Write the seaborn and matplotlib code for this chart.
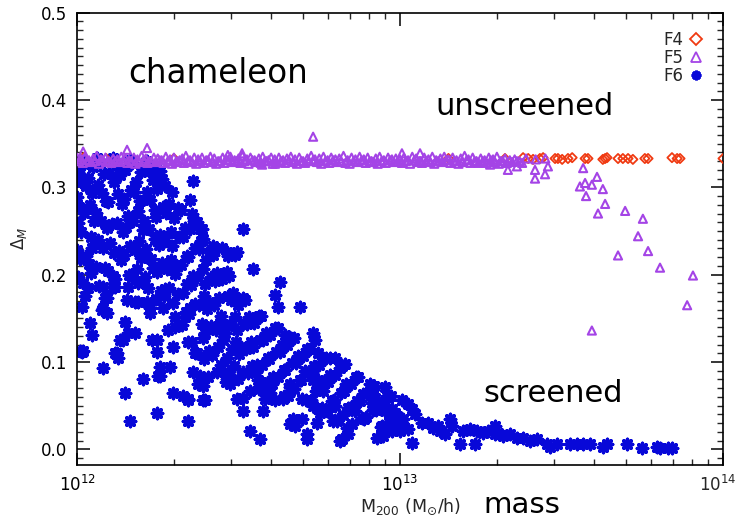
import numpy as np
import pandas as pd
import matplotlib
matplotlib.use("Agg")
import matplotlib.pyplot as plt
import seaborn as sns
from matplotlib.ticker import MultipleLocator, LogLocator, FormatStrFormatter, NullFormatter, FuncFormatter
from matplotlib.lines import Line2D

# ---------------- data (log10 of M200 in Msun/h, and Delta_M) ----------------
# F6 (blue asterisks)
f6_logm = [
    12.010, 12.002, 12.012, 12.001, 12.006, 12.003, 12.011, 12.000, 12.008, 12.002,
    12.021, 12.034, 12.027, 12.040, 12.023, 12.042, 12.029, 12.036, 12.019,
    12.063, 12.049, 12.066, 12.045, 12.058, 12.053, 12.064, 12.047, 12.060, 12.044,
    12.071, 12.084, 12.077, 12.090, 12.073, 12.092, 12.079, 12.086, 12.069,
    12.113, 12.099, 12.116, 12.095, 12.108, 12.103, 12.114, 12.097, 12.110,
    12.121, 12.134, 12.127, 12.140, 12.123, 12.142, 12.129, 12.136, 12.119,
    12.163, 12.149, 12.166, 12.145, 12.158, 12.153, 12.164, 12.147, 12.160,
    12.171, 12.184, 12.177, 12.190, 12.173, 12.192, 12.179, 12.186, 12.169,
    12.213, 12.199, 12.216, 12.195, 12.208, 12.203, 12.214, 12.197, 12.210,
    12.221, 12.234, 12.227, 12.240, 12.223, 12.242, 12.229, 12.236, 12.219,
    12.263, 12.249, 12.266, 12.245, 12.258, 12.253, 12.264, 12.247, 12.260, 12.244,
    12.271, 12.284, 12.277, 12.290, 12.273, 12.292, 12.279, 12.286, 12.269,
    12.313, 12.299, 12.316, 12.295, 12.308, 12.303, 12.314, 12.297,
    12.321, 12.334, 12.327, 12.340, 12.323, 12.342, 12.329, 12.336,
    12.363, 12.349, 12.366, 12.345, 12.358, 12.353, 12.364, 12.347,
    12.371, 12.384, 12.377, 12.390, 12.373, 12.392, 12.379, 12.386,
    12.413, 12.399, 12.416, 12.395, 12.408, 12.403, 12.414, 12.397, 12.410, 12.394, 12.406,
    12.421, 12.434, 12.427, 12.440, 12.423, 12.442, 12.429, 12.436, 12.419, 12.432,
    12.463, 12.449, 12.466, 12.445, 12.458, 12.453, 12.464, 12.447, 12.460,
    12.471, 12.484, 12.477, 12.490, 12.473, 12.492, 12.479, 12.486, 12.469,
    12.513, 12.499, 12.516, 12.495, 12.508, 12.503, 12.514, 12.497,
    12.521, 12.534, 12.527, 12.540, 12.523, 12.542, 12.529, 12.536,
    12.563, 12.549, 12.566, 12.545, 12.558, 12.553, 12.564,
    12.571, 12.584, 12.577, 12.590, 12.573, 12.592, 12.579,
    12.613, 12.599, 12.616, 12.595, 12.608, 12.603,
    12.621, 12.634, 12.627, 12.640, 12.623, 12.642,
    12.663, 12.649, 12.666, 12.645, 12.658, 12.653,
    12.671, 12.684, 12.677, 12.690, 12.673,
    12.713, 12.699, 12.716, 12.695, 12.708,
    12.721, 12.734, 12.727, 12.740, 12.723,
    12.763, 12.749, 12.766, 12.745, 12.758,
    12.771, 12.784, 12.777, 12.790, 12.773,
    12.813, 12.799, 12.816, 12.795, 12.808,
    12.821, 12.834, 12.827, 12.840, 12.823,
    12.863, 12.849, 12.866, 12.845,
    12.871, 12.884, 12.877, 12.890,
    12.913, 12.899, 12.916, 12.895,
    12.921, 12.934, 12.927, 12.940,
    12.963, 12.949, 12.966,
    12.971, 12.984, 12.977,
    # scattered haloes
    12.015, 12.025, 12.034, 12.019, 12.009, 12.040, 12.046, 12.080, 12.093, 12.093,
    12.077, 12.118, 12.124, 12.127, 12.149, 12.149, 12.142, 12.158, 12.164, 12.180,
    12.180, 12.204, 12.226, 12.248, 12.248, 12.248, 12.257, 12.257, 12.266, 12.288,
    12.297, 12.297, 12.325, 12.328, 12.344, 12.344, 12.356, 12.372, 12.381, 12.390,
    12.396, 12.464, 12.474, 12.495, 12.514, 12.514, 12.536, 12.545, 12.567, 12.576,
    12.598, 12.628, 12.622, 12.659, 12.659, 12.669, 12.690, 12.712, 12.731, 12.743,
    12.743, 12.783, 12.793, 12.814, 12.836,
    12.080, 12.111, 12.158, 12.189, 12.087, 12.080, 12.155, 12.189, 12.217, 12.226,
    12.272, 12.303, 12.334, 12.350, 12.232, 12.282, 12.303, 12.344, 12.390, 12.133,
    12.015, 12.118, 12.251, 12.365, 12.359, 12.381, 12.344, 12.390,
    12.697, 12.675, 12.712, 12.731, 12.752, 12.375, 12.560, 12.582, 12.613, 12.638,
    12.697, 12.706, 12.731, 12.762,
    12.830, 12.799, 12.907, 12.916, 12.954, 12.960, 12.913, 12.932, 12.954, 12.975,
    12.985, 13.006, 13.025, 13.037, 13.046, 13.009, 12.994, 12.944, 12.929, 12.947,
    12.975, 13.025, 13.037, 13.068, 13.087, 13.102, 13.118, 12.820, 12.839, 12.805,
    12.746, 12.746, 12.861, 12.882, 12.851, 12.799, 12.774,
    13.000, 13.124, 13.155, 13.161, 13.139, 13.186, 13.195, 13.217, 13.238, 13.232,
    13.257, 13.272, 13.294, 13.294, 13.303, 13.319, 13.341, 13.362, 13.381, 13.402,
    13.424, 13.455, 13.464, 13.486, 13.526, 13.548, 13.567, 13.588, 13.628, 13.641,
    13.703, 13.749, 13.796, 13.805, 13.830, 13.842, 12.923, 12.969, 12.991, 12.978,
    12.248, 12.257, 12.359, 12.294, 12.350, 12.356, 12.381, 12.387, 12.390, 12.421,
    12.514, 12.449, 12.464, 12.489, 12.495, 12.467, 12.613, 12.644, 12.737, 12.217,
]
f6_delta = [
    0.331, 0.317, 0.306, 0.289, 0.278, 0.259, 0.249, 0.228, 0.218, 0.197,
    0.327, 0.311, 0.301, 0.280, 0.271, 0.243, 0.221, 0.212, 0.190,
    0.334, 0.323, 0.303, 0.293, 0.271, 0.261, 0.240, 0.231, 0.209, 0.202,
    0.328, 0.315, 0.293, 0.284, 0.262, 0.253, 0.231, 0.208, 0.187,
    0.334, 0.316, 0.306, 0.283, 0.258, 0.236, 0.225, 0.204, 0.198,
    0.325, 0.314, 0.292, 0.281, 0.259, 0.249, 0.227, 0.217, 0.195,
    0.331, 0.320, 0.297, 0.287, 0.267, 0.255, 0.233, 0.222, 0.200,
    0.328, 0.306, 0.295, 0.273, 0.262, 0.239, 0.228, 0.207, 0.197,
    0.329, 0.317, 0.295, 0.284, 0.262, 0.251, 0.229, 0.219, 0.197,
    0.320, 0.308, 0.286, 0.274, 0.252, 0.241, 0.218, 0.208, 0.185,
    0.310, 0.298, 0.277, 0.266, 0.245, 0.234, 0.213, 0.203, 0.181, 0.172,
    0.302, 0.281, 0.271, 0.249, 0.239, 0.217, 0.207, 0.185, 0.175,
    0.276, 0.265, 0.243, 0.233, 0.211, 0.201, 0.178, 0.168,
    0.274, 0.253, 0.243, 0.221, 0.211, 0.189, 0.179, 0.157,
    0.262, 0.252, 0.230, 0.220, 0.198, 0.188, 0.166, 0.155,
    0.260, 0.239, 0.229, 0.207, 0.197, 0.175, 0.165, 0.143,
    0.226, 0.217, 0.197, 0.189, 0.169, 0.161, 0.141, 0.133, 0.113, 0.103, 0.083,
    0.222, 0.202, 0.193, 0.173, 0.165, 0.145, 0.137, 0.117, 0.108, 0.088,
    0.203, 0.195, 0.175, 0.153, 0.133, 0.125, 0.105, 0.097, 0.077,
    0.198, 0.179, 0.171, 0.151, 0.143, 0.123, 0.115, 0.095, 0.087,
    0.173, 0.165, 0.145, 0.137, 0.117, 0.109, 0.089, 0.081,
    0.171, 0.151, 0.143, 0.123, 0.115, 0.095, 0.087, 0.067,
    0.153, 0.145, 0.125, 0.117, 0.097, 0.089, 0.069,
    0.153, 0.133, 0.125, 0.105, 0.097, 0.077, 0.069,
    0.139, 0.131, 0.111, 0.103, 0.083, 0.075,
    0.139, 0.119, 0.111, 0.091, 0.083, 0.061,
    0.127, 0.119, 0.099, 0.091, 0.071, 0.061,
    0.127, 0.107, 0.099, 0.079, 0.069,
    0.115, 0.107, 0.087, 0.079, 0.057,
    0.115, 0.095, 0.087, 0.067, 0.057,
    0.105, 0.097, 0.077, 0.069, 0.047,
    0.105, 0.085, 0.077, 0.055, 0.045,
    0.093, 0.085, 0.065, 0.057, 0.035,
    0.095, 0.075, 0.067, 0.047, 0.039,
    0.083, 0.075, 0.055, 0.047,
    0.083, 0.063, 0.055, 0.035,
    0.073, 0.065, 0.045, 0.037,
    0.073, 0.053, 0.045, 0.025,
    0.059, 0.051, 0.031,
    0.061, 0.041, 0.033,
    # scattered haloes
    0.163, 0.175, 0.185, 0.113, 0.113, 0.145, 0.131, 0.093, 0.156, 0.173,
    0.160, 0.186, 0.110, 0.104, 0.146, 0.065, 0.125, 0.133, 0.032, 0.133,
    0.169, 0.081, 0.156, 0.125, 0.111, 0.042, 0.084, 0.094, 0.162, 0.094,
    0.065, 0.117, 0.142, 0.061, 0.058, 0.032, 0.123, 0.110, 0.084, 0.073,
    0.056, 0.081, 0.075, 0.058, 0.059, 0.044, 0.021, 0.206, 0.012, 0.044,
    0.064, 0.192, 0.163, 0.075, 0.029, 0.035, 0.163, 0.017, 0.133, 0.047,
    0.030, 0.105, 0.032, 0.009, 0.024,
    0.186, 0.186, 0.186, 0.191, 0.173, 0.162, 0.171, 0.169, 0.169, 0.162,
    0.183, 0.152, 0.152, 0.162, 0.125, 0.137, 0.140, 0.123, 0.127, 0.125,
    0.111, 0.110, 0.084, 0.110, 0.088, 0.079, 0.056, 0.056,
    0.035, 0.027, 0.012, 0.050, 0.042, 0.075, 0.079, 0.058, 0.056, 0.058,
    0.058, 0.090, 0.079, 0.067,
    0.098, 0.105, 0.075, 0.069, 0.071, 0.061, 0.053, 0.047, 0.044, 0.046,
    0.040, 0.056, 0.052, 0.046, 0.040, 0.035, 0.029, 0.027, 0.013, 0.015,
    0.021, 0.023, 0.007, 0.030, 0.030, 0.024, 0.027, 0.012, 0.017, 0.032,
    0.110, 0.079, 0.044, 0.036, 0.029, 0.050, 0.044,
    0.021, 0.021, 0.035, 0.027, 0.017, 0.006, 0.021, 0.023, 0.021, 0.006,
    0.019, 0.021, 0.027, 0.017, 0.019, 0.015, 0.017, 0.013, 0.013, 0.009,
    0.012, 0.006, 0.003, 0.006, 0.006, 0.006, 0.006, 0.006, 0.003, 0.006,
    0.006, 0.001, 0.003, 0.001, 0.001, 0.001, 0.059, 0.042, 0.038, 0.024,
    0.319, 0.319, 0.307, 0.295, 0.285, 0.270, 0.252, 0.252, 0.241, 0.233,
    0.252, 0.231, 0.226, 0.223, 0.226, 0.221, 0.177, 0.131, 0.125, 0.330,
]

# F5 (purple open triangles)
f5_logm = [
    12.000, 12.012, 12.025, 12.037, 12.050, 12.061, 12.074, 12.088, 12.099, 12.112,
    12.125, 12.137, 12.150, 12.162, 12.176, 12.187, 12.200, 12.213, 12.224, 12.238,
    12.250, 12.262, 12.275, 12.288, 12.300, 12.312, 12.326, 12.337, 12.350, 12.363,
    12.375, 12.387, 12.400, 12.413, 12.425, 12.437, 12.451, 12.462, 12.475, 12.488,
    12.500, 12.512, 12.526, 12.537, 12.550, 12.563, 12.575, 12.587, 12.601, 12.612,
    12.625, 12.638, 12.650, 12.662, 12.675, 12.688, 12.700, 12.713, 12.725, 12.737,
    12.750, 12.763, 12.776, 12.787, 12.800, 12.812, 12.825, 12.838, 12.850, 12.862,
    12.875, 12.888, 12.900, 12.912, 12.925, 12.937, 12.950, 12.963, 12.975, 12.987,
    13.000, 13.012, 13.025, 13.038, 13.050, 13.062, 13.075, 13.088, 13.100, 13.112,
    13.125, 13.137, 13.150, 13.163, 13.175, 13.188, 13.200, 13.212, 13.225, 13.237,
    13.250, 13.262, 13.275, 13.288, 13.300, 13.312, 13.325, 13.340, 13.355, 13.370,
    12.006, 12.018, 12.031, 12.043, 12.056, 12.068, 12.080, 12.093, 12.106, 12.118,
    12.131, 12.143, 12.156, 12.168, 12.181, 12.193, 12.206, 12.218, 12.231, 12.244,
    12.256, 12.268, 12.281, 12.294, 12.306, 12.318, 12.331, 12.343, 12.356, 12.369,
    12.381, 12.393, 12.406, 12.419, 12.431, 12.443, 12.456, 12.468, 12.481, 12.494,
    12.506, 12.518, 12.531, 12.543, 12.556, 12.569, 12.581, 12.593, 12.606, 12.618,
    12.631, 12.644, 12.656, 12.668, 12.681, 12.694, 12.706, 12.718, 12.731, 12.743,
    12.756, 12.769, 12.781, 12.793, 12.806, 12.818, 12.831, 12.844, 12.856, 12.868,
    12.881, 12.894, 12.906, 12.918, 12.931, 12.943, 12.956, 12.969, 12.981, 12.993,
    13.006, 13.018, 13.031, 13.044, 13.056, 13.068, 13.081, 13.094, 13.106, 13.118,
    13.131, 13.143, 13.156, 13.168, 13.181, 13.194, 13.206, 13.218, 13.231, 13.243,
    13.256, 13.268, 13.281, 13.294, 13.306, 13.318, 13.331, 13.347, 13.362, 13.378,
    12.019, 12.155, 12.217, 12.511, 12.467, 12.573, 12.613, 12.731, 13.006, 13.062,
    13.279, 13.334, 13.362, 13.418, 13.418, 13.449, 13.458, 13.567, 13.557, 13.573,
    13.594, 13.576, 13.610, 13.628, 13.635, 13.613, 13.697, 13.752, 13.737, 13.768,
    13.675, 13.805, 13.907, 13.889, 13.594, 13.390, 13.420, 13.450,
]
f5_delta = [
    0.334, 0.332, 0.335, 0.331, 0.333, 0.336, 0.332, 0.334, 0.330, 0.333,
    0.332, 0.335, 0.333, 0.331, 0.334, 0.332, 0.336, 0.333, 0.330, 0.334,
    0.333, 0.331, 0.335, 0.332, 0.334, 0.330, 0.333, 0.336, 0.331, 0.334,
    0.332, 0.334, 0.331, 0.335, 0.333, 0.330, 0.334, 0.332, 0.335, 0.331,
    0.333, 0.336, 0.332, 0.334, 0.331, 0.333, 0.335, 0.330, 0.334, 0.332,
    0.334, 0.331, 0.333, 0.335, 0.332, 0.334, 0.330, 0.333, 0.336, 0.332,
    0.333, 0.335, 0.331, 0.334, 0.332, 0.333, 0.336, 0.331, 0.334, 0.332,
    0.335, 0.332, 0.334, 0.330, 0.333, 0.335, 0.331, 0.334, 0.332, 0.333,
    0.332, 0.334, 0.331, 0.335, 0.333, 0.330, 0.334, 0.332, 0.335, 0.331,
    0.333, 0.335, 0.332, 0.334, 0.331, 0.333, 0.336, 0.332, 0.334, 0.330,
    0.333, 0.331, 0.334, 0.332, 0.335, 0.330, 0.333, 0.331, 0.332, 0.330,
    0.330, 0.328, 0.331, 0.329, 0.330, 0.327, 0.331, 0.329, 0.328, 0.330,
    0.329, 0.331, 0.328, 0.330, 0.327, 0.329, 0.331, 0.328, 0.330, 0.329,
    0.331, 0.328, 0.330, 0.327, 0.329, 0.331, 0.328, 0.330, 0.329, 0.327,
    0.330, 0.328, 0.331, 0.329, 0.327, 0.330, 0.328, 0.331, 0.329, 0.330,
    0.328, 0.330, 0.327, 0.331, 0.329, 0.328, 0.330, 0.331, 0.327, 0.329,
    0.330, 0.328, 0.331, 0.329, 0.327, 0.330, 0.328, 0.330, 0.331, 0.329,
    0.327, 0.330, 0.328, 0.331, 0.329, 0.330, 0.328, 0.327, 0.330, 0.329,
    0.331, 0.328, 0.330, 0.329, 0.327, 0.330, 0.328, 0.331, 0.329, 0.330,
    0.328, 0.330, 0.327, 0.331, 0.329, 0.328, 0.330, 0.329, 0.327, 0.330,
    0.329, 0.331, 0.328, 0.330, 0.327, 0.329, 0.331, 0.328, 0.330, 0.328,
    0.330, 0.328, 0.331, 0.329, 0.327, 0.330, 0.328, 0.329, 0.330, 0.328,
    0.341, 0.343, 0.345, 0.339, 0.337, 0.326, 0.327, 0.358, 0.339, 0.339,
    0.326, 0.320, 0.324, 0.320, 0.310, 0.315, 0.324, 0.322, 0.301, 0.305,
    0.303, 0.290, 0.312, 0.298, 0.281, 0.270, 0.273, 0.264, 0.244, 0.227,
    0.222, 0.208, 0.199, 0.165, 0.136, 0.333, 0.332, 0.333,
]

# F4 (red open diamonds)
f4_logm = [
    13.325, 13.381, 13.397, 13.412, 13.433, 13.443, 13.480, 13.489, 13.502, 13.520,
    13.533, 13.573, 13.582, 13.628, 13.635, 13.641, 13.675, 13.690, 13.706, 13.721,
    13.758, 13.768, 13.842, 13.858, 13.867, 14.000, 12.020, 12.090, 12.300, 13.150,
]
f4_delta = [
    0.333, 0.334, 0.333, 0.332, 0.333, 0.334, 0.333, 0.333, 0.332, 0.333,
    0.334, 0.333, 0.333, 0.332, 0.333, 0.334, 0.333, 0.333, 0.333, 0.332,
    0.333, 0.333, 0.334, 0.333, 0.333, 0.333, 0.334, 0.333, 0.333, 0.333,
]

series_labels = ["F4", "F5", "F6"]
annotations = ["chameleon", "unscreened", "screened", "mass"]

for a, b in [(f6_logm, f6_delta), (f5_logm, f5_delta), (f4_logm, f4_delta)]:
    if len(a) != len(b):
        raise ValueError(f"length mismatch {len(a)} vs {len(b)}")

# ---------------- style ----------------
sns.set_style("ticks")
plt.rcParams['font.family'] = ['DejaVu Sans']
plt.rcParams['axes.linewidth'] = 1.2

BLUE = "#0808d8"
PURPLE = "#a444e6"
RED = "#f03a12"

W, H = 740, 519
fig = plt.figure(figsize=(W / 100, H / 100), dpi=100)
ax_l, ax_r, ax_t, ax_b = 77, 723, 12.7, 465
ax = fig.add_axes([ax_l / W, 1 - ax_b / H, (ax_r - ax_l) / W, (ax_b - ax_t) / H])

df6 = pd.DataFrame({"mass": np.power(10.0, f6_logm), "delta": f6_delta})
df5 = pd.DataFrame({"mass": np.power(10.0, f5_logm), "delta": f5_delta})
df4 = pd.DataFrame({"mass": np.power(10.0, f4_logm), "delta": f4_delta})

sns.scatterplot(data=df6, x="mass", y="delta", ax=ax, marker=(8, 2, 0),
                color=BLUE, s=55, linewidth=2.5, legend=False, zorder=2)
sns.scatterplot(data=df4, x="mass", y="delta", ax=ax, marker="D",
                facecolor="none", edgecolor=RED, s=22, linewidth=1.3,
                legend=False, zorder=3)
sns.scatterplot(data=df5, x="mass", y="delta", ax=ax, marker="^",
                facecolor="none", edgecolor=PURPLE, s=34, linewidth=1.5,
                legend=False, zorder=4)

ax.set_xscale("log")
ax.set_xlim(1e12, 1e14)
ax.set_ylim(-0.018, 0.5)

ax.yaxis.set_major_locator(MultipleLocator(0.1))
ax.yaxis.set_minor_locator(MultipleLocator(0.01))
ax.yaxis.set_major_formatter(FormatStrFormatter("%.1f"))
ax.xaxis.set_major_locator(LogLocator(base=10, numticks=5))
ax.xaxis.set_minor_locator(LogLocator(base=10, subs=np.arange(2, 10), numticks=20))
ax.xaxis.set_minor_formatter(NullFormatter())


def xfmt(v, pos):
    e = int(round(np.log10(v)))
    if e >= 14:
        return ""
    return r"$\mathdefault{10^{%d}}$" % e


ax.xaxis.set_major_formatter(FuncFormatter(xfmt))

ax.tick_params(which="major", direction="in", length=9, width=1.1,
               top=True, right=True, labelsize=12, pad=7, colors="black")
ax.tick_params(which="minor", direction="in", length=4.5, width=1.0,
               top=True, right=True)
for sp in ax.spines.values():
    sp.set_color("black")
    sp.set_linewidth(1.2)

# last decade label, nudged left so it stays inside the figure
ax.annotate(r"$\mathdefault{10^{14}}$", xy=(1.0, 0.0), xycoords="axes fraction",
            xytext=(-4, -7.2), textcoords="offset points", ha="center", va="top",
            fontsize=12, annotation_clip=False)

ax.set_xlabel(r"M$_{200}$ (M$_{\odot}$/h)", fontsize=12.5)
ax.xaxis.set_label_coords((411 - ax_l) / (ax_r - ax_l), -0.07)
ax.set_ylabel(r"$\Delta_{M}$", fontsize=12)
ax.yaxis.set_label_coords(-0.075, 0.5)

handles = [
    Line2D([], [], ls="none", marker="D", mfc="none", mec=RED, ms=6.5, mew=1.3),
    Line2D([], [], ls="none", marker="^", mfc="none", mec=PURPLE, ms=7.5, mew=1.3),
    Line2D([], [], ls="none", marker=(8, 2, 0), color=BLUE, mec=BLUE, ms=7, mew=2.0),
]
ax.legend(handles, series_labels, loc="upper right",
          bbox_to_anchor=((703 - ax_l) / (ax_r - ax_l), (ax_b - 31) / (ax_b - ax_t)),
          frameon=False, markerfirst=False, fontsize=12, handlelength=0.8,
          handletextpad=0.4, labelspacing=0.0, borderpad=0.0, borderaxespad=0.0)


def px(x, y):
    return x / W, 1 - y / H


txt_kw = dict(color="black", ha="left", va="baseline")
fig.text(*px(128, 83), annotations[0], fontsize=23.5, **txt_kw)
fig.text(*px(435, 115), annotations[1], fontsize=22, **txt_kw)
fig.text(*px(483, 402), annotations[2], fontsize=22, **txt_kw)
fig.text(*px(483, 513), annotations[3], fontsize=21, **txt_kw)

fig.savefig("out.png", dpi=100, facecolor="white")
